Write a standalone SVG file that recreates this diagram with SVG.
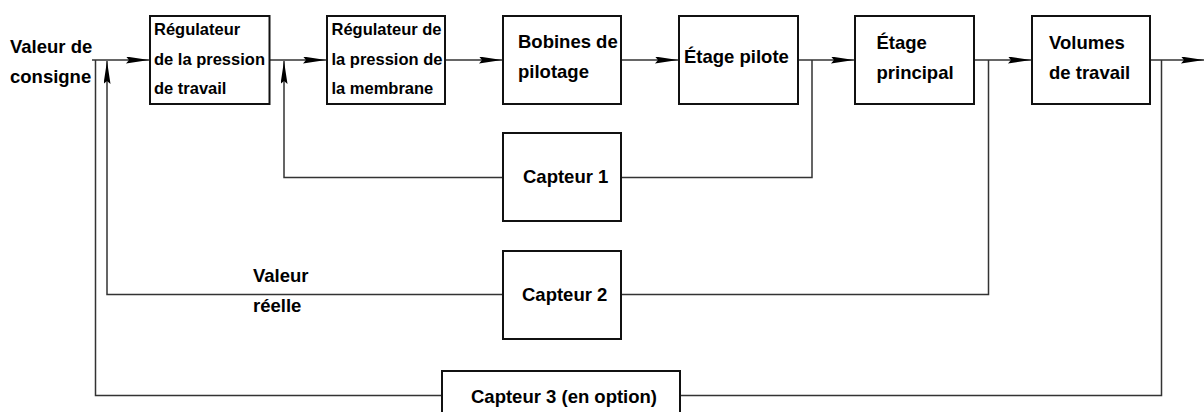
<svg xmlns="http://www.w3.org/2000/svg" width="1204" height="412" viewBox="0 0 1204 412">
<defs>
<marker id="arr" markerUnits="userSpaceOnUse" markerWidth="24" markerHeight="8" refX="23" refY="3.5" orient="auto">
<path d="M0,0 L23,3.5 L0,7 L3,3.5 z" fill="#000"/>
</marker>
</defs>
<style>
.box{fill:#fff;stroke:#111;stroke-width:2}
.ln{fill:none;stroke:#333;stroke-width:1.5}
.s{font-family:"Liberation Sans",Arial,sans-serif;font-weight:bold;font-size:16.5px;fill:#000}
.m{font-family:"Liberation Sans",Arial,sans-serif;font-weight:bold;font-size:18.5px;fill:#000}
</style>
<rect width="1204" height="412" fill="#fff"/>
<g id="connectors">
<line class="ln" x1="92" y1="60" x2="149" y2="60" marker-end="url(#arr)"/>
<line class="ln" x1="270" y1="60" x2="326" y2="60" marker-end="url(#arr)"/>
<line class="ln" x1="445" y1="60" x2="502" y2="60" marker-end="url(#arr)"/>
<line class="ln" x1="621" y1="60" x2="678" y2="60" marker-end="url(#arr)"/>
<line class="ln" x1="798" y1="60" x2="854" y2="60" marker-end="url(#arr)"/>
<line class="ln" x1="974" y1="60" x2="1031" y2="60" marker-end="url(#arr)"/>
<line class="ln" x1="1150" y1="60" x2="1204" y2="60" marker-end="url(#arr)"/>
<path class="ln" d="M812,60 V177.5 H621"/>
<path class="ln" d="M503,177.5 H284 V61" marker-end="url(#arr)"/>
<path class="ln" d="M988.5,60 V294.5 H621"/>
<path class="ln" d="M503,294.5 H107 V61" marker-end="url(#arr)"/>
<path class="ln" d="M1161.5,60 V395.5 H680"/>
<path class="ln" d="M442,395.5 H95.5 V60"/>
</g>
<g id="input-label">
<text class="m" x="10" y="53">Valeur de</text>
<text class="m" x="10" y="83">consigne</text>
</g>
<g id="actual-label">
<text class="m" x="253" y="282">Valeur</text>
<text class="m" x="253" y="312">réelle</text>
</g>
<g id="reg-travail">
<rect class="box" x="150" y="16" width="119.5" height="88"/>
<text class="s" x="154" y="35">Régulateur</text>
<text class="s" x="154" y="64.5">de la pression</text>
<text class="s" x="154" y="94">de travail</text>
</g>
<g id="reg-membrane">
<rect class="box" x="327" y="16" width="118" height="88"/>
<text class="s" x="331.5" y="35">Régulateur de</text>
<text class="s" x="331.5" y="64.5">la pression de</text>
<text class="s" x="331.5" y="94">la membrane</text>
</g>
<g id="bobines">
<rect class="box" x="503" y="16" width="118" height="88"/>
<text class="m" x="518" y="48">Bobines de</text>
<text class="m" x="518" y="78">pilotage</text>
</g>
<g id="etage-pilote">
<rect class="box" x="679" y="16" width="119" height="88"/>
<text class="m" x="684" y="63">Étage pilote</text>
</g>
<g id="etage-principal">
<rect class="box" x="855" y="16" width="119" height="88"/>
<text class="m" x="876.5" y="49">Étage</text>
<text class="m" x="876.5" y="79">principal</text>
</g>
<g id="volumes">
<rect class="box" x="1032" y="16" width="118" height="88"/>
<text class="m" x="1049" y="49">Volumes</text>
<text class="m" x="1049" y="79">de travail</text>
</g>
<g id="capteur1">
<rect class="box" x="503" y="133" width="118" height="88"/>
<text class="m" x="523" y="183">Capteur 1</text>
</g>
<g id="capteur2">
<rect class="box" x="503" y="251" width="118" height="88"/>
<text class="m" x="522" y="301">Capteur 2</text>
</g>
<g id="capteur3">
<rect class="box" x="442" y="371" width="238" height="60"/>
<text class="m" x="471" y="403">Capteur 3 (en option)</text>
</g>
</svg>
